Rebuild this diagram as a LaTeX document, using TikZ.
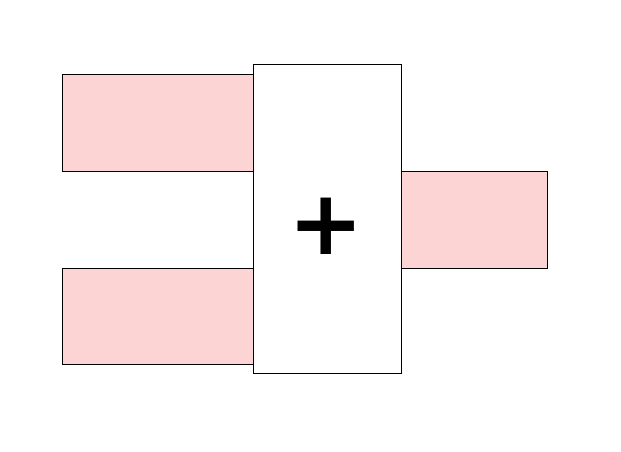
\documentclass[tikz,border=0pt]{standalone}
\usepackage{fontspec}
\newfontfamily\plusfont{DejaVu Sans}
\definecolor{portpink}{RGB}{252,212,211}
\tikzset{
  port/.style={draw=black, line width=0.6pt, fill=portpink, inner sep=0pt,
               minimum width=#1},
  port/.default=191pt,
  adderbox/.style={draw=black, line width=0.8pt, fill=white, inner sep=0pt,
                   minimum width=148pt, minimum height=309pt}
}
\begin{document}
\begin{tikzpicture}[x=1pt,y=-1pt]
\useasboundingbox (0,0) rectangle (621,452);

% Input and output ports
\node[port, minimum height=97pt] (in1) at (157.5,122.5) {};
\node[port, minimum height=96pt] (in2) at (157.5,316) {};
\node[port=146pt, minimum height=97pt] (out) at (474,219.5) {};

% Adder block
\node[adderbox] (adder) at (327,218.5) {};
\node[font=\plusfont\bfseries\fontsize{90}{90}\selectfont, inner sep=0pt,
      xshift=-1pt, yshift=-8pt] (plus) at (adder.center) {+};
\end{tikzpicture}
\end{document}
